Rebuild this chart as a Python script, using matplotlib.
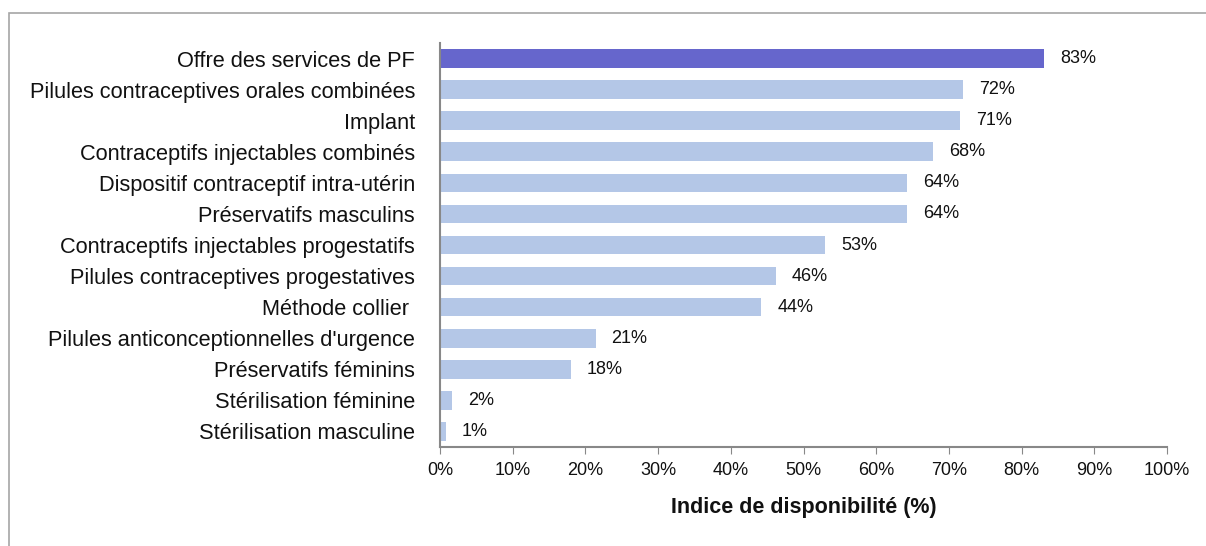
import matplotlib
matplotlib.use("Agg")
import matplotlib.pyplot as plt
from matplotlib.patches import Rectangle
from matplotlib.ticker import MultipleLocator, FuncFormatter

categories = [
    "Offre des services de PF",
    "Pilules contraceptives orales combinées",
    "Implant",
    "Contraceptifs injectables combinés",
    "Dispositif contraceptif intra-utérin",
    "Préservatifs masculins",
    "Contraceptifs injectables progestatifs",
    "Pilules contraceptives progestatives",
    "Méthode collier ",
    "Pilules anticonceptionnelles d'urgence",
    "Préservatifs féminins",
    "Stérilisation féminine",
    "Stérilisation masculine",
]
values = [83.1, 72.0, 71.5, 67.8, 64.3, 64.2, 53.0, 46.2, 44.2, 21.4, 18.0, 1.6, 0.8]
labels = ["83%", "72%", "71%", "68%", "64%", "64%", "53%", "46%", "44%", "21%", "18%", "2%", "1%"]

plt.rcParams['font.family'] = ['Liberation Sans Narrow', 'Liberation Sans', 'DejaVu Sans']

fig = plt.figure(figsize=(12.06, 5.46), dpi=100)
fig.patches.append(Rectangle((9/1206, -0.1), 1.2, 1 - 13/546 + 0.1, transform=fig.transFigure,
                             fill=False, edgecolor="#a6a6a6", linewidth=1.2))
ax = fig.add_axes([440/1206, 1 - 447/546, (1167 - 440)/1206, (447 - 43)/546])

colors = ["#6666cc"] + ["#b4c7e7"] * (len(values) - 1)
y = list(range(len(values)))
ax.barh(y, values, height=0.6, color=colors, edgecolor="none")
for yi, v, lab in zip(y, values, labels):
    ax.text(v + 2.2, yi, lab, va="center", ha="left", fontsize=13, color="#111111")

ax.set_ylim(len(values) - 0.5, -0.5)
ax.set_xlim(0, 100)
ax.set_yticks(y)
ax.set_yticklabels(categories, fontsize=15.7, color="#111111")
ax.tick_params(axis="y", length=0, pad=18)
ax.xaxis.set_major_locator(MultipleLocator(10))
ax.xaxis.set_major_formatter(FuncFormatter(lambda v, p: f"{int(v)}%"))
ax.tick_params(axis="x", length=5, color="#888888", labelsize=13, pad=6, labelcolor="#111111")
for s in ["top", "right"]:
    ax.spines[s].set_visible(False)
for s in ["left", "bottom"]:
    ax.spines[s].set_color("#888888")
    ax.spines[s].set_linewidth(1.5)
ax.set_xlabel("Indice de disponibilité (%)", fontsize=15.5, fontweight="bold", labelpad=13, color="#111111")

fig.savefig("out.png", dpi=100)
